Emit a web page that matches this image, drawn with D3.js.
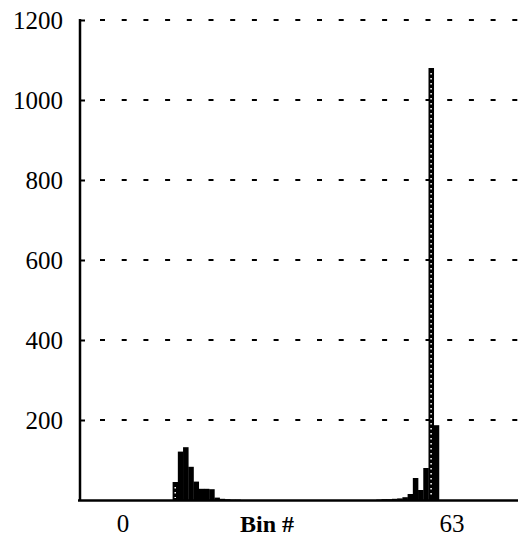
<!DOCTYPE html>
<html>
<head>
<meta charset="utf-8">
<script src="https://cdn.jsdelivr.net/npm/d3@7"></script>
<style>
  body { margin: 0; background: #fff; }
  svg text { font-family: "Liberation Serif", "DejaVu Serif", serif; fill: #000; }
</style>
</head>
<body>
<div class="chart"></div>
<script>
/* bin counts */
const bins = [
  0, 0, 0, 0, 0, 0, 0, 0, 0, 0,
  45, 121, 132, 83, 46, 28, 28, 27, 6, 3,
  2, 1, 1, 0, 0, 0, 0, 0, 0, 0,
  0, 0, 0, 0, 0, 0, 0, 0, 0, 0,
  0, 0, 0, 0, 0, 0, 0, 0, 0, 1,
  2, 2, 3, 4, 7, 15, 55, 25, 80, 1080,
  187, 0, 0, 0
];
/* bins that carry the white dotted line */
const dottedBins = [10, 59];
const yTicks = [200, 400, 600, 800, 1000, 1200];
const xLabels = [0, 63];
const xTitle = "Bin #";

const w = 526, h = 550;
const padLeft = 80, padRight = 518, padTop = 20, padBottom = 500;

const svg = d3.select(".chart")
  .append("svg")
  .attr("width", w)
  .attr("height", h);

/* bin index -> pixel centre */
const xScale = d3.scaleLinear()
  .domain([0, 63])
  .range([123, 452]);
const bw = xScale(1) - xScale(0);

const yScale = d3.scaleLinear()
  .domain([0, 1200])
  .range([padBottom, padTop]);

/* dashed grid */
svg.append("g")
  .selectAll("line")
  .data(yTicks)
  .enter()
  .append("line")
  .attr("x1", padLeft + 20)
  .attr("x2", padRight)
  .attr("y1", d => yScale(d))
  .attr("y2", d => yScale(d))
  .attr("stroke", "#000")
  .attr("stroke-width", 2)
  .attr("stroke-dasharray", "5,16.7");

/* bars */
svg.append("g")
  .selectAll("rect")
  .data(bins)
  .enter()
  .append("rect")
  .attr("x", (d, i) => xScale(i) - bw / 2)
  .attr("y", d => yScale(d))
  .attr("width", bw + 0.3)
  .attr("height", d => padBottom - yScale(d))
  .attr("fill", "#000");

svg.append("g")
  .selectAll("line")
  .data(dottedBins)
  .enter()
  .append("line")
  .attr("x1", d => xScale(d))
  .attr("x2", d => xScale(d))
  .attr("y1", d => yScale(bins[d]) + 5)
  .attr("y2", padBottom - 2)
  .attr("stroke", "#fff")
  .attr("stroke-width", 1.5)
  .attr("stroke-dasharray", "1.5,3.5");

/* y axis */
const yAxis = d3.axisLeft(yScale)
  .tickValues(yTicks)
  .tickFormat(d3.format("d"))
  .tickSize(-5)
  .tickPadding(17);

const gy = svg.append("g")
  .attr("transform", "translate(" + padLeft + ",0)")
  .call(yAxis);
gy.select(".domain").remove();
gy.selectAll(".tick line").attr("stroke", "#000").attr("stroke-width", 2);
gy.selectAll("text")
  .style("font-size", "25px")
  .attr("dy", "0.35em");

svg.append("line")
  .attr("x1", padLeft).attr("x2", padLeft)
  .attr("y1", padTop - 1).attr("y2", padBottom + 1)
  .attr("stroke", "#000").attr("stroke-width", 2.5);

/* x axis baseline */
svg.append("line")
  .attr("x1", padLeft - 2).attr("x2", padRight)
  .attr("y1", padBottom + 0.5).attr("y2", padBottom + 0.5)
  .attr("stroke", "#000").attr("stroke-width", 2.5);

svg.append("g")
  .selectAll("text")
  .data(xLabels)
  .enter()
  .append("text")
  .attr("x", d => xScale(d))
  .attr("y", 532)
  .attr("text-anchor", "middle")
  .style("font-size", "25px")
  .text(d => d);

svg.append("text")
  .attr("x", 267)
  .attr("y", 532)
  .attr("text-anchor", "middle")
  .style("font-size", "24px")
  .style("font-weight", "bold")
  .text(xTitle);
</script>
</body>
</html>
